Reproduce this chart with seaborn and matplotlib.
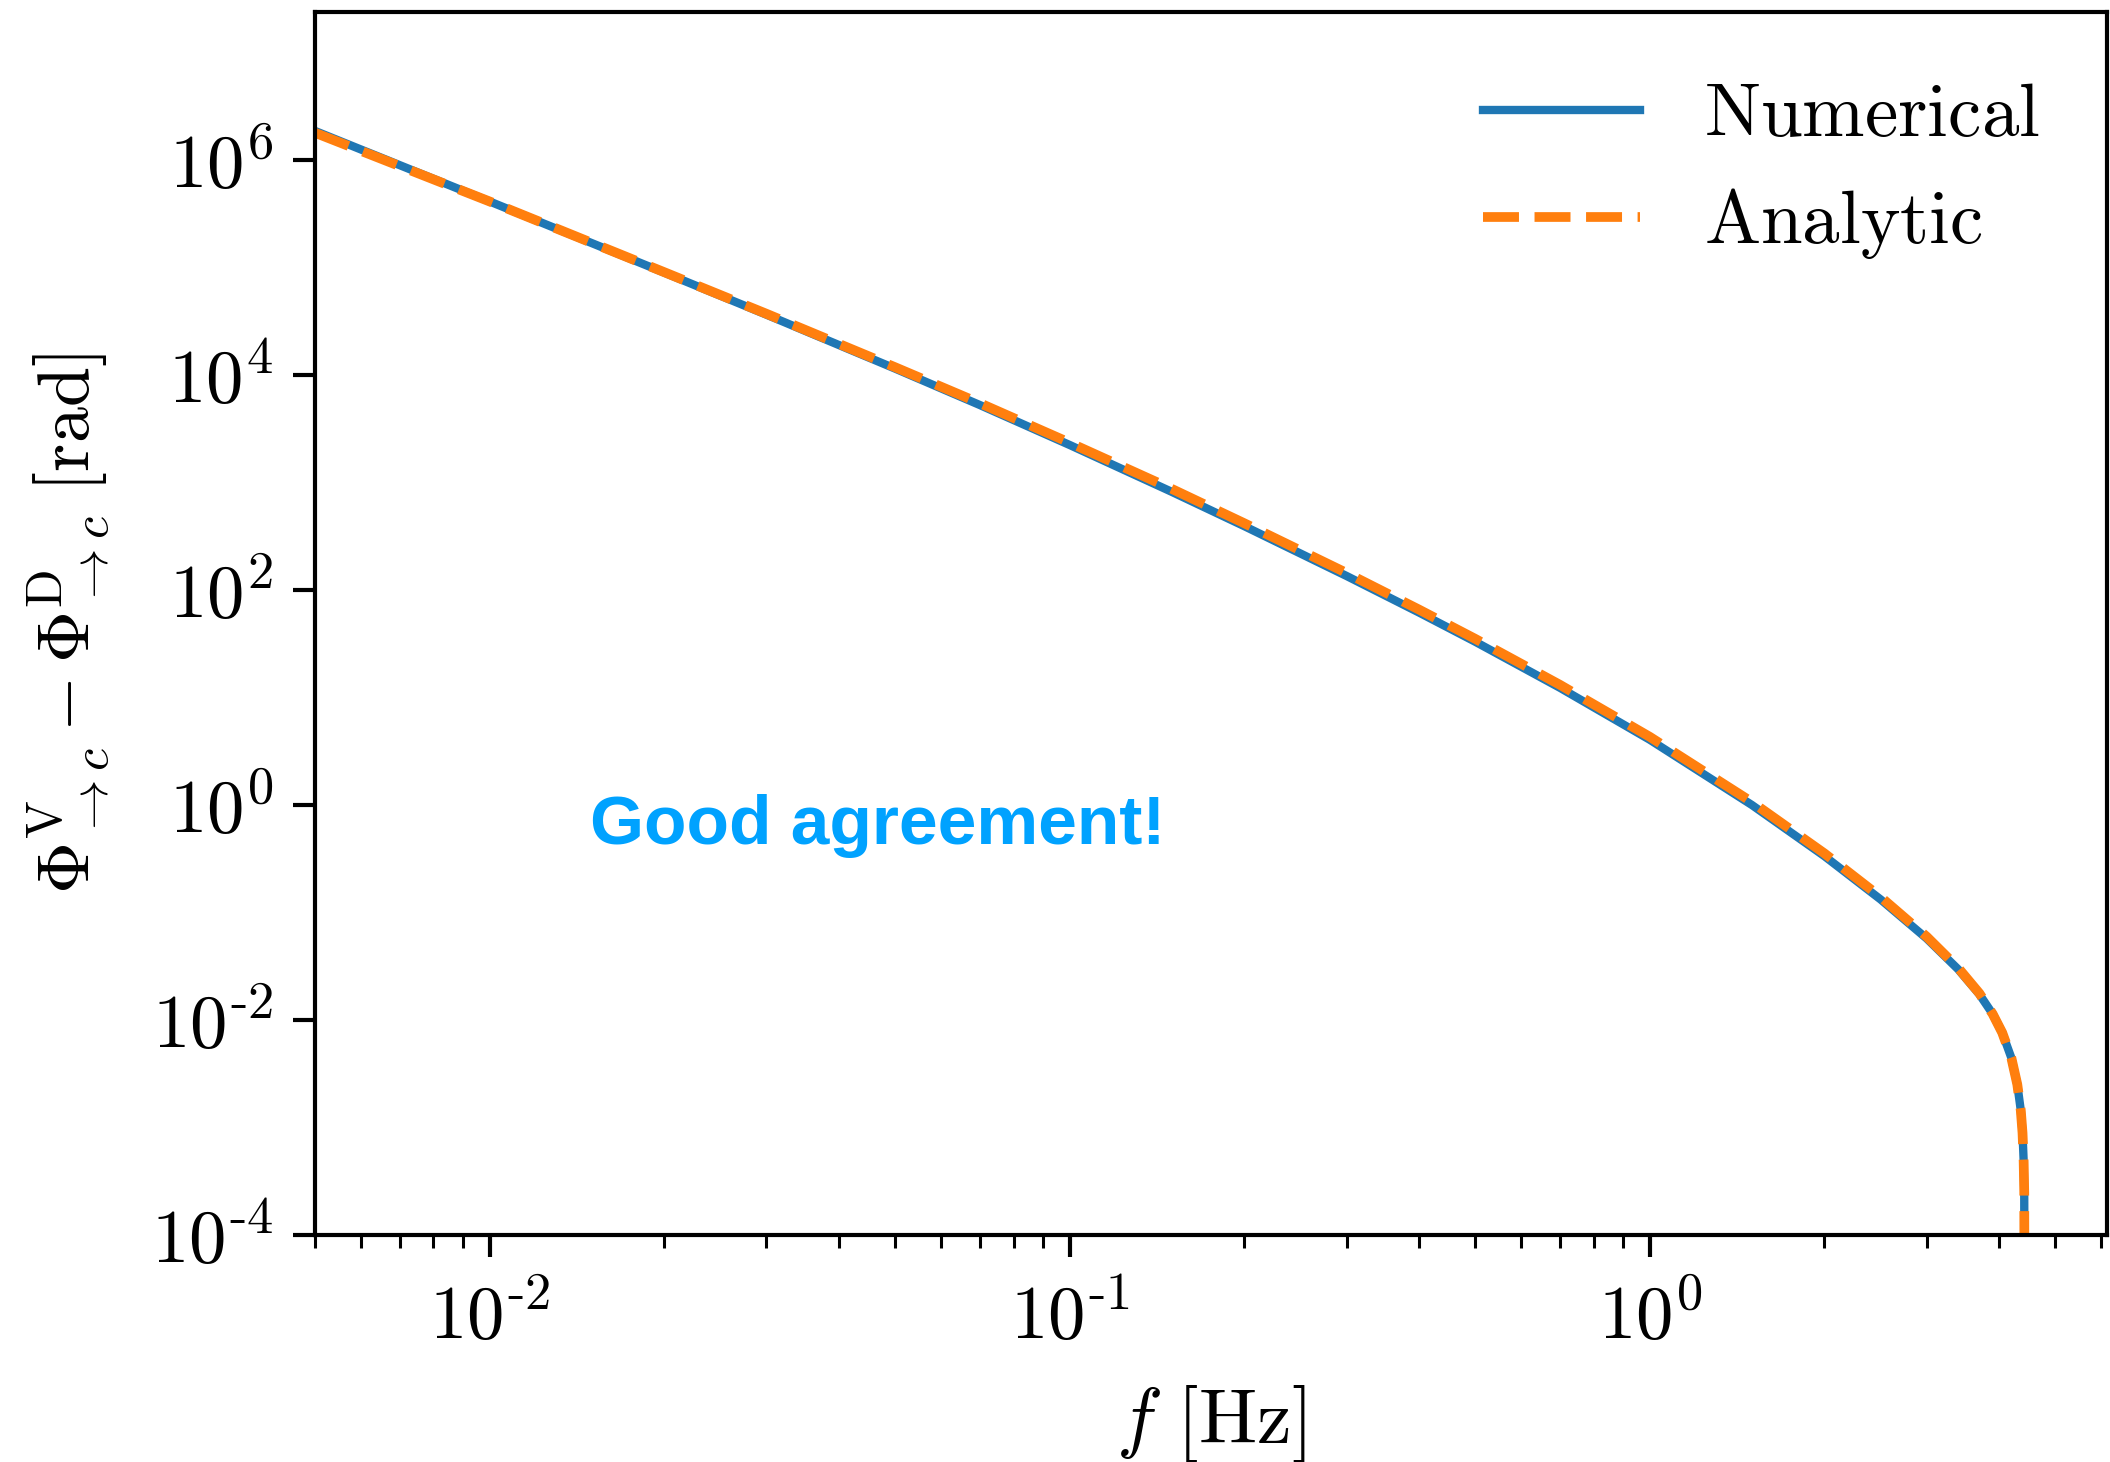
import matplotlib
matplotlib.use("Agg")
import matplotlib.pyplot as plt
import numpy as np
import pandas as pd
import seaborn as sns
from matplotlib.ticker import FixedLocator, FixedFormatter, LogLocator, NullLocator, NullFormatter

# Frequency grid [Hz] and phase differences [rad]
freq_numerical = [0.005, 0.01, 0.02, 0.03, 0.05, 0.07, 0.1, 0.15, 0.2, 0.3, 0.4, 0.5, 0.7,
                  1.0, 1.5, 2.0, 2.5, 3.0, 3.4, 3.7, 3.9, 4.05, 4.2, 4.3, 4.36, 4.39,
                  4.41, 4.42, 4.425]
dphi_numerical = [1.862e6, 4.11e5, 8.95e4, 3.64e4, 1.146e4, 5.25e3, 2.23e3, 817, 392, 135,
                  61.7, 33.0, 12.3, 4.04, 0.998, 0.334, 0.132, 0.0573, 0.0296, 0.0173,
                  0.01135, 7.62e-3, 4.43e-3, 2.51e-3, 1.44e-3, 8.89e-4, 4.82e-4, 2.5e-4, 1e-5]

freq_analytic = [0.005, 0.01, 0.02, 0.03, 0.05, 0.07, 0.1, 0.15, 0.2, 0.3, 0.4, 0.5, 0.7,
                 1.0, 1.5, 2.0, 2.5, 3.0, 3.4, 3.7, 3.9, 4.05, 4.2, 4.3, 4.36, 4.39,
                 4.41, 4.42, 4.425]
dphi_analytic = [1.79e6, 4.11e5, 9.04e4, 3.71e4, 1.18e4, 5.46e3, 2.34e3, 870, 417, 144,
                 65.7, 35.1, 13.1, 4.30, 1.063, 0.354, 0.139, 0.0596, 0.0305, 0.01765,
                 0.01135, 7.62e-3, 4.43e-3, 2.51e-3, 1.44e-3, 8.89e-4, 4.82e-4, 2.5e-4, 1e-5]

series_labels = [r"$\rm Numerical$", r"$\rm Analytic$"]

y_ticks = [1e-4, 1e-2, 1e0, 1e2, 1e4, 1e6]
y_ticklabels = [r"$10^{\text{-}4}$", r"$10^{\text{-}2}$", r"$10^{0}$",
                r"$10^{2}$", r"$10^{4}$", r"$10^{6}$"]
x_ticks = [1e-2, 1e-1, 1e0]
x_ticklabels = [r"$10^{\text{-}2}$", r"$10^{\text{-}1}$", r"$10^{0}$"]

plt.rcParams["mathtext.fontset"] = "cm"
plt.rcParams["font.family"] = ["DejaVu Sans"]

fig = plt.figure(figsize=(10.55, 7.31), dpi=200)
ax = fig.add_axes([0.1493, 0.1553, 0.8493, 0.8365])

df_num = pd.DataFrame({"f": freq_numerical, "dphi": dphi_numerical})
df_ana = pd.DataFrame({"f": freq_analytic, "dphi": dphi_analytic})

sns.lineplot(data=df_num, x="f", y="dphi", ax=ax, color="#1f77b4", lw=3.0,
             estimator=None, label=series_labels[0])
sns.lineplot(data=df_ana, x="f", y="dphi", ax=ax, color="#ff7f0e", lw=3.5,
             linestyle="--", estimator=None, label=series_labels[1])

ax.set_xscale("log")
ax.set_yscale("log")
ax.set_xlim(0.005, 6.14)
ax.set_ylim(1e-4, 2.38e7)

ax.yaxis.set_major_locator(FixedLocator(y_ticks))
ax.yaxis.set_major_formatter(FixedFormatter(y_ticklabels))
ax.yaxis.set_minor_locator(NullLocator())
ax.xaxis.set_major_locator(FixedLocator(x_ticks))
ax.xaxis.set_major_formatter(FixedFormatter(x_ticklabels))
ax.xaxis.set_minor_locator(LogLocator(base=10, subs=np.arange(2, 10), numticks=20))
ax.xaxis.set_minor_formatter(NullFormatter())

for side in ["left", "right", "top", "bottom"]:
    ax.spines[side].set_linewidth(1.5)
    ax.spines[side].set_color("black")

ax.tick_params(axis="both", which="major", length=8, width=1.5, labelsize=27,
               direction="out", color="black")
ax.tick_params(axis="y", which="major", pad=7)
ax.tick_params(axis="x", which="major", pad=9)
ax.tick_params(axis="x", which="minor", length=4.5, width=1.1, direction="out")

ax.set_xlabel(r"$f\ [\rm Hz]$", fontsize=28, labelpad=10)
ax.set_ylabel(r"$\Phi^{\rm V}_{\to c} - \Phi^{\rm D}_{\to c}\ [\rm rad]$", fontsize=26,
              labelpad=14)

leg = ax.legend(loc="upper right", frameon=False, fontsize=27, handlelength=2.1,
                handletextpad=0.85, labelspacing=0.45, borderaxespad=0.5)

ax.text(0.314, 0.334, "Good agreement!", transform=ax.transAxes, ha="center", va="center",
        fontsize=25, fontweight="bold", color="#00a2ff", family=["Liberation Sans", "DejaVu Sans"])

fig.savefig("out.png", dpi=200, facecolor="white")
